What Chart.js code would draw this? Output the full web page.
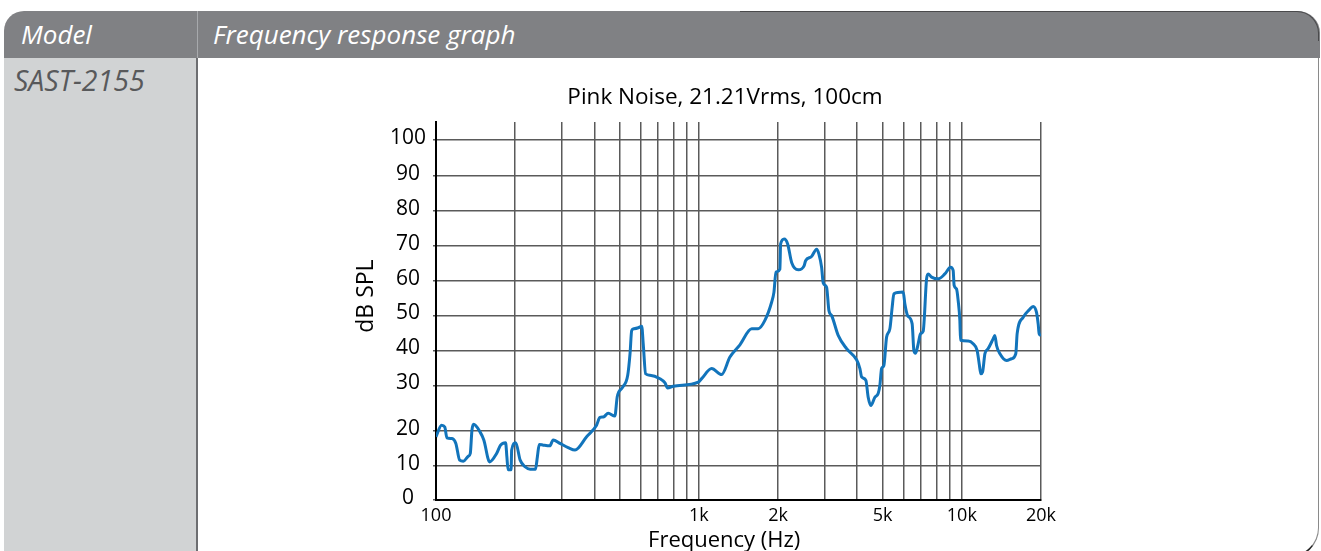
<!DOCTYPE html>
<html>
<head>
<meta charset="utf-8">
<script src="https://cdn.jsdelivr.net/npm/chart.js@4/dist/chart.umd.min.js"></script>
<style>
  html, body { margin:0; padding:0; }
  body { width:1321px; height:551px; overflow:hidden; background:#fff; position:relative; font-family:'Open Sans', sans-serif; }
  .hdr { position:absolute; left:4px; top:11px; width:1316px; height:47px; background:#808184; border-radius:20px 22px 0 0; }
  .hdr-edge { position:absolute; left:740px; top:11px; width:579px; height:30px; border-top:1px solid #4a4a4c; border-right:1px solid #4a4a4c; border-top-right-radius:22px; box-sizing:border-box; }
  .hdiv { position:absolute; left:197px; top:11px; width:1px; height:47px; background:#a7a9ac; }
  .leftcol { position:absolute; left:4px; top:58px; width:192px; height:500px; background:#d1d3d4; border-right:2px solid #6d6e71; }
  .rightbox { position:absolute; left:198px; top:58px; width:1121px; height:500px; border-right:1px solid #8a8a8a; border-bottom:2px solid #222; border-bottom-right-radius:30px; box-sizing:border-box; }
  .htxt { position:absolute; top:11px; line-height:47px; font-size:26px; font-style:italic; color:#fff; white-space:nowrap; }
  .model { position:absolute; left:14px; top:60px; line-height:40px; font-size:28.5px; font-style:italic; color:#58595b; white-space:nowrap; }
  .chartbox { position:absolute; left:200px; top:58px; width:1050px; height:520px; }
</style>
</head>
<body>
<div class="hdr"></div>
<div class="hdr-edge"></div>
<div class="hdiv"></div>
<div class="leftcol"></div>
<div class="rightbox"></div>
<div class="htxt" style="left:21px;">Model</div>
<div class="htxt" style="left:213px;">Frequency response graph</div>
<div class="model">SAST-2155</div>
<div class="chartbox"><canvas id="c"></canvas></div>
<script>
// ---- data ----
const freqHz = [100,105,108,110,115,119,123,127,133,135,137,139,147,152,160,170,176,184,186,188,193,194,201,209,218,228,239,243,247,256,271,279,296,318,338,374,408,420,433,452,479,489,513,536,547,555,566,588,606,614,627,651,711,743,760,799,994,1024,1118,1220,1312,1432,1587,1681,1782,1890,1929,1963,2032,2045,2110,2175,2252,2386,2514,2545,2682,2803,2860,2928,2970,3059,3122,3196,3386,3644,3978,4095,4156,4315,4403,4508,4669,4805,4878,4951,5052,5173,5324,5433,5514,5982,6072,6216,6471,6569,6668,6821,6966,7127,7342,7446,7671,8127,8617,9057,9266,9347,9546,9681,9826,9888,10570,11040,11430,11640,11810,11990,12240,12590,13150,13350,13550,13940,14790,15450,16040,16230,17110,18030,18670,19230,19510,19680,20000];
const splDb = [18.4,21.3,20.9,18.1,17.9,16.5,11.7,11.4,12.9,13.6,20.2,21.5,19.8,17.5,11.2,13.6,16.0,16.7,12.7,8.9,8.9,14.6,16.7,11.7,9.8,9.1,9.1,12.7,16.2,16.0,15.8,17.5,16.5,15.3,14.6,18.4,21.3,23.0,23.1,23.9,23.3,27.5,29.6,32.9,39.1,45.7,46.2,46.5,46.9,41.9,33.3,32.9,31.9,30.7,29.4,29.8,30.9,31.9,34.8,33.1,38.1,41.6,46.2,46.2,48.6,53.8,56.7,62.4,63.3,70.5,71.9,70.5,65.2,63.1,64.3,65.7,66.9,69.0,67.6,63.8,59.3,58.1,51.4,50.0,44.3,40.5,37.3,34.8,32.4,31.4,27.4,25.6,27.4,28.2,30.0,34.8,35.7,43.8,46.2,52.4,56.2,56.7,53.3,50.0,47.6,40.0,39.2,41.9,44.8,45.5,60.5,61.9,61.0,60.5,61.9,63.8,62.9,58.6,57.6,54.3,48.6,42.9,42.7,41.9,40.0,36.2,33.3,33.8,39.1,40.5,43.3,44.3,41.4,39.1,37.1,37.6,39.1,44.8,49.5,51.6,52.6,50.9,47.6,44.8,44.3];
const xTickValues = [100,200,300,400,500,600,700,800,900,1000,2000,3000,4000,5000,6000,7000,8000,9000,10000,20000];
const xTickLabels = {100:'100',1000:'1k',2000:'2k',5000:'5k',10000:'10k',20000:'20k'};
const yTickValues = [0,10,20,30,40,50,60,70,80,90,100];
const chartTitle = 'Pink Noise, 21.21Vrms, 100cm';
const xTitle = 'Frequency (Hz)';
const yTitle = 'dB SPL';

// ---- a linear scale whose 10 dB bands have the uneven spacing of the printed chart ----
class BandScale extends Chart.LinearScale {
  _stops() { return this.options.bandStops; }
  getPixelForValue(value) {
    if (value === null || value === undefined || isNaN(value)) return NaN;
    const s = this._stops();
    let i = 0;
    while (i < s.length - 2 && value > s[i + 1][0]) i++;
    const [v0, d0] = s[i], [v1, d1] = s[i + 1];
    const dec = d0 + (value - v0) / (v1 - v0) * (d1 - d0);
    return this.getPixelForDecimal(dec);
  }
  getValueForPixel(pixel) {
    const dec = this.getDecimalForPixel(pixel);
    const s = this._stops();
    let i = 0;
    while (i < s.length - 2 && dec > s[i + 1][1]) i++;
    const [v0, d0] = s[i], [v1, d1] = s[i + 1];
    return v0 + (dec - d0) / (d1 - d0) * (v1 - v0);
  }
}
BandScale.id = 'bands';
BandScale.defaults = Chart.LinearScale.defaults;
Chart.register(BandScale);

Chart.defaults.font.family = "'Open Sans', sans-serif";
Chart.defaults.color = '#000';

const gridCol = '#5a5a5a';
const points = freqHz.map((f, i) => ({ x: f, y: splDb[i] }));

new Chart(document.getElementById('c'), {
  type: 'line',
  data: {
    datasets: [{
      data: points,
      borderColor: '#1274bb',
      borderWidth: 3,
      pointRadius: 0,
      fill: false,
      cubicInterpolationMode: 'monotone',
      xAxisID: 'x',
      yAxisID: 'y'
    }]
  },
  options: {
    responsive: true,
    maintainAspectRatio: false,
    animation: false,
    devicePixelRatio: 1,
    layout: { padding: { left: 189, right: 189, top: 0, bottom: 0 } },
    plugins: {
      legend: { display: false },
      tooltip: { enabled: false },
      title: {
        display: true,
        text: chartTitle,
        font: { size: 22.5, weight: 'normal' },
        color: '#000',
        padding: { top: 26, bottom: 11 }
      }
    },
    scales: {
      x: {
        type: 'logarithmic',
        min: 100,
        max: 20000,
        afterBuildTicks: (scale) => { scale.ticks = xTickValues.map(v => ({ value: v })); },
        afterFit: (scale) => { scale.height = 78; },
        ticks: {
          autoSkip: false,
          maxRotation: 0,
          padding: 5,
          font: { size: 18 },
          color: '#000',
          callback: (v) => xTickLabels[v] || ''
        },
        grid: { color: gridCol, lineWidth: 1.5, drawTicks: false },
        border: { display: true, color: '#000', width: 2 },
        title: {
          display: true,
          text: xTitle + '\u00a0\u00a0\u00a0\u00a0\u00a0',
          font: { size: 22 },
          color: '#000',
          padding: { top: 0, bottom: 24 }
        }
      },
      y: {
        type: 'bands',
        position: 'left',
        min: 0,
        max: 105,
        bandStops: [[0, 0], [10, 34/379], [20, 69/379], [30, 115/379], [40, 150/379], [50, 185/379], [60, 220/379], [70, 255/379], [80, 290/379], [90, 325/379], [100, 361/379], [105, 1]],
        afterBuildTicks: (scale) => { scale.ticks = yTickValues.map(v => ({ value: v })); },
        afterFit: (scale) => { scale.width = 47; },
        ticks: {
          padding: 7,
          crossAlign: 'center',
          labelOffset: -2,
          font: { size: 21 },
          color: '#000',
          callback: (v) => String(v)
        },
        grid: { color: gridCol, lineWidth: 1.5, drawTicks: true, tickLength: 3 },
        border: { display: true, color: '#000', width: 2 },
        title: {
          display: true,
          text: '\u00a0\u00a0\u00a0\u00a0\u00a0' + yTitle,
          font: { size: 23 },
          color: '#000',
          padding: { top: -36, bottom: 0 }
        }
      },
      // empty right-hand spacer so the chart title sits where the printed one does
      yRight: {
        type: 'linear',
        position: 'right',
        display: true,
        afterFit: (scale) => { scale.width = 20; },
        grid: { display: false, drawTicks: false },
        border: { display: false },
        ticks: { display: false },
        title: { display: false }
      }
    }
  }
});
</script>
</body>
</html>
